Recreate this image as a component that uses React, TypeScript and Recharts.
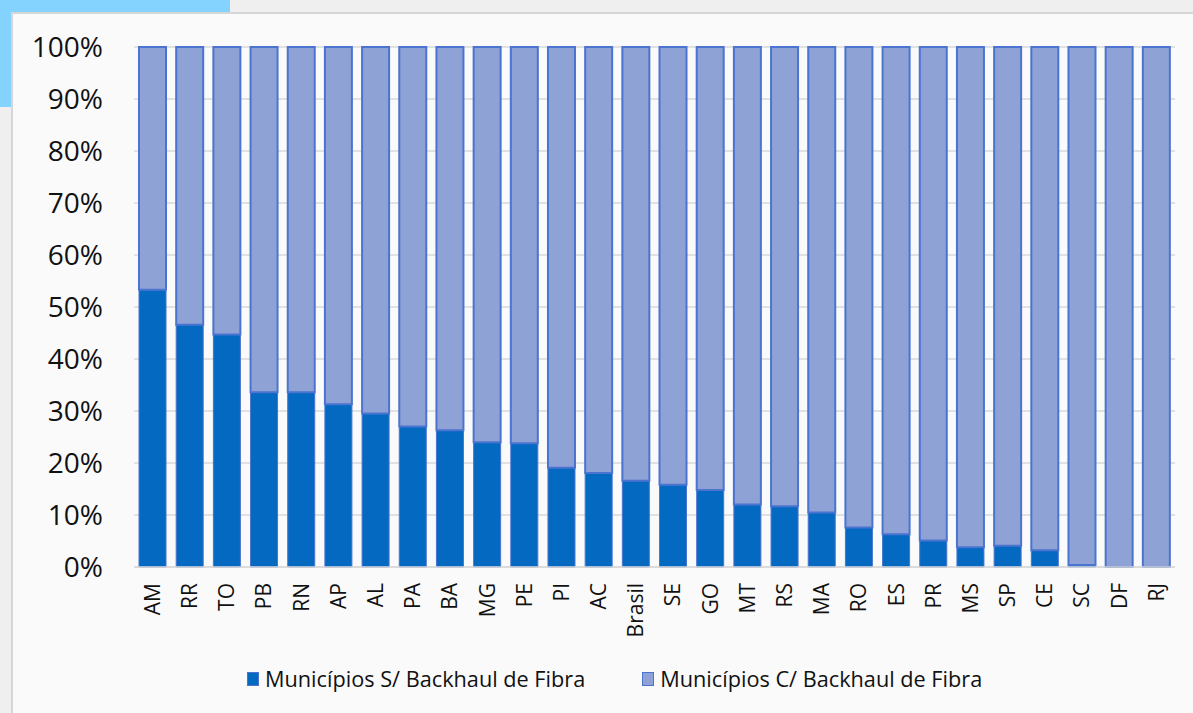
import { BarChart, Bar, XAxis, YAxis, CartesianGrid } from "recharts";

const estados = [
  "AM", "RR", "TO", "PB", "RN", "AP", "AL", "PA", "BA", "MG", "PE", "PI", "AC", "Brasil",
  "SE", "GO", "MT", "RS", "MA", "RO", "ES", "PR", "MS", "SP", "CE", "SC", "DF", "RJ",
];

// % de municípios sem backhaul de fibra
const semBackhaul = [
  53.3, 46.6, 44.7, 33.6, 33.6, 31.3, 29.5, 27.0, 26.3, 24.0, 23.8, 19.1, 18.1, 16.6,
  15.8, 14.8, 12.0, 11.7, 10.5, 7.6, 6.3, 5.1, 3.8, 4.1, 3.2, 0.4, 0, 0,
];

// % de municípios com backhaul de fibra
const comBackhaul = [
  46.7, 53.4, 55.3, 66.4, 66.4, 68.7, 70.5, 73.0, 73.7, 76.0, 76.2, 80.9, 81.9, 83.4,
  84.2, 85.2, 88.0, 88.3, 89.5, 92.4, 93.7, 94.9, 96.2, 95.9, 96.8, 99.6, 100, 100,
];

const yTicks = [0, 10, 20, 30, 40, 50, 60, 70, 80, 90, 100];

const serieS = "Municípios S/ Backhaul de Fibra";
const serieC = "Municípios C/ Backhaul de Fibra";

const data = estados.map((uf, i) => ({ uf, sem: semBackhaul[i], com: comBackhaul[i] }));

const FONT = "'Open Sans', sans-serif";
const DARK = "#0469C1";
const LIGHT = "#8EA2D5";
const EDGE = "#4A74D0";

function UfTick({ x, y, payload }: any) {
  return (
    <text
      transform={`translate(${x},${y + 8}) rotate(-90)`}
      textAnchor="end"
      dy="0.35em"
      fontSize={21}
      fill="#111"
      fontFamily={FONT}
    >
      {payload.value}
    </text>
  );
}

export default function App() {
  return (
    <div
      style={{
        position: "fixed",
        left: 0,
        top: 0,
        width: 1193,
        height: 713,
        background: "#efefef",
        overflow: "hidden",
        fontFamily: FONT,
      }}
    >
      <div style={{ position: "absolute", left: 0, top: 0, width: 230, height: 107, background: "#84D2FE" }} />
      <div
        style={{
          position: "absolute",
          left: 11,
          top: 12,
          width: 1200,
          height: 720,
          background: "#fafafa",
          border: "2px solid #d6d6d6",
          boxSizing: "border-box",
        }}
      />
      <div style={{ position: "absolute", left: 12, top: 12 }}>
        <BarChart
          width={1181}
          height={701}
          data={data}
          barCategoryGap="13.5%"
          margin={{ top: 35, right: 18, left: 0, bottom: 86 }}
        >
          <CartesianGrid vertical={false} stroke="#d9d9d9" strokeWidth={1.5} />
          <XAxis
            dataKey="uf"
            interval={0}
            tick={<UfTick />}
            tickLine={false}
            axisLine={{ stroke: "#d9d9d9", strokeWidth: 1.5 }}
            height={60}
          />
          <YAxis
            domain={[0, 100]}
            ticks={yTicks}
            tickFormatter={(v) => `${v}%`}
            width={122}
            tickLine={false}
            axisLine={false}
            tickMargin={25}
            tick={{ fontSize: 28, fill: "#111", fontFamily: FONT }}
          />
          <Bar dataKey="sem" name={serieS} stackId="a" fill={DARK} stroke={EDGE} strokeWidth={1} isAnimationActive={false} />
          <Bar dataKey="com" name={serieC} stackId="a" fill={LIGHT} stroke={EDGE} strokeWidth={2} isAnimationActive={false} />
        </BarChart>
      </div>
      <div
        style={{
          position: "absolute",
          top: 664,
          left: 247,
          display: "flex",
          gap: 57,
          fontSize: 21.7,
          color: "#111",
        }}
      >
        {[
          { name: serieS, fill: DARK },
          { name: serieC, fill: LIGHT },
        ].map((s) => (
          <div key={s.name} style={{ display: "flex", alignItems: "center", gap: 6 }}>
            <span
              style={{
                display: "inline-block",
                width: 12,
                height: 14,
                background: s.fill,
                border: `1px solid ${EDGE}`,
                boxSizing: "border-box",
              }}
            />
            <span>{s.name}</span>
          </div>
        ))}
      </div>
    </div>
  );
}
